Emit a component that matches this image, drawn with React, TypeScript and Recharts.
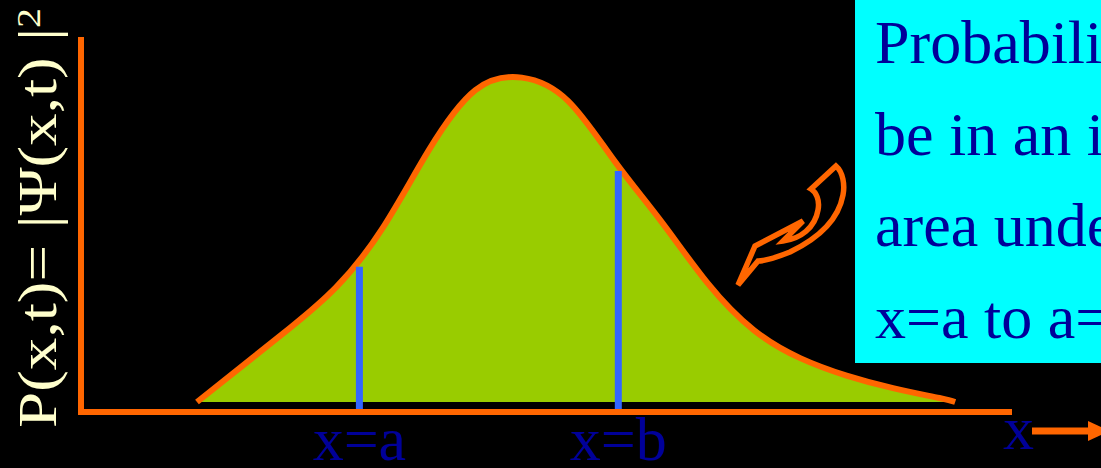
import { AreaChart, Area, XAxis, YAxis, ReferenceLine } from 'recharts';

// position along x (arbitrary units, 0..10) and probability density
const xPos = [1.25, 1.75, 2.25, 2.75, 3.25, 3.75, 4.25, 4.75, 5.25, 5.75, 6.25, 6.75, 7.25, 7.75, 8.25, 8.75, 9.25, 9.42];
const density = [0, 0.112, 0.224, 0.348, 0.527, 0.764, 0.945, 0.983, 0.912, 0.73, 0.548, 0.361, 0.218, 0.133, 0.08, 0.042, 0.012, 0];

// interval bounds a and b, with the height of the curve there
const boundX = [3.0, 5.79];
const boundTop = [0.41, 0.7];
const boundLabels = ['x=a', 'x=b'];

const noteLines = [
  'Probability to find the particle',
  'be in an interval is the',
  'area under the curve from',
  'x=a to a=b',
];

const data = xPos.map((x, i) => ({ x, p: density[i] }));

const ORANGE = '#FF6600';
const serif = '"Liberation Serif", "Times New Roman", serif';

const App = () => {
  return (
    <div style={{ position: 'absolute', left: 0, top: 0, width: 1101, height: 468, background: '#000', overflow: 'hidden' }}>
      <AreaChart width={1101} height={468} data={data} margin={{ top: 40, right: 92, bottom: 0, left: 0 }}>
        <XAxis
          type="number"
          dataKey="x"
          domain={[0, 10]}
          allowDataOverflow
          height={56}
          ticks={boundX}
          tickFormatter={(v) => boundLabels[boundX.indexOf(v as number)] ?? ''}
          tickLine={false}
          tickSize={0}
          tickMargin={4}
          interval={0}
          tick={{ fill: '#000099', fontSize: 62, fontFamily: serif }}
          axisLine={{ stroke: ORANGE, strokeWidth: 6, strokeLinecap: 'square' }}
        />
        <YAxis
          type="number"
          domain={[-0.0303, 1.097]}
          allowDataOverflow
          width={81}
          tick={false}
          tickLine={false}
          axisLine={{ stroke: ORANGE, strokeWidth: 6, strokeLinecap: 'square' }}
        />
        <Area
          type="natural"
          dataKey="p"
          stroke={ORANGE}
          strokeWidth={6}
          fill="#99CC00"
          fillOpacity={1}
          isAnimationActive={false}
        />
        {boundX.map((bx, i) => (
          <ReferenceLine
            key={bx}
            segment={[{ x: bx, y: -0.0303 }, { x: bx, y: boundTop[i] }]}
            stroke="#3366FF"
            strokeWidth={7}
          />
        ))}
      </AreaChart>

      <svg width={1101} height={468} style={{ position: 'absolute', left: 0, top: 0, pointerEvents: 'none' }}>
        {/* y axis title */}
        <text
          transform="translate(56,428) rotate(-90) scale(1.05,0.9)"
          fill="#FFFFCC"
          fontSize={62}
          fontFamily={serif}
        >
          P(x,t)= |Ψ(x,t) |<tspan fontSize={38} dy={-18}>2</tspan>
        </text>

        {/* note box */}
        <rect x={855} y={0} width={260} height={363} fill="#00FFFF" />
        {noteLines.map((line, i) => (
          <text key={i} x={875} y={63 + i * 91.7} fill="#000099" fontSize={62} fontFamily={serif}>
            {line}
          </text>
        ))}

        {/* curled pointer */}
        <path
          d="M738,285 L755,246 L803,221 L783,241 C800,239 815,228 818,210 C820,200 816,192 811,189 L836,166 C843,172 845,185 843,195 C838,222 815,240 790,252 C775,258 765,261 758,261 Z"
          fill="none"
          stroke={ORANGE}
          strokeWidth={5.5}
          strokeLinejoin="miter"
        />

        {/* x direction arrow */}
        <text x={1003} y={449} fill="#000099" fontSize={62} fontFamily={serif}>x</text>
        <line x1={1032} y1={431} x2={1090} y2={431} stroke={ORANGE} strokeWidth={7} />
        <polygon points="1088,421 1088,441 1110,431" fill={ORANGE} />
      </svg>
    </div>
  );
};

export default App;
